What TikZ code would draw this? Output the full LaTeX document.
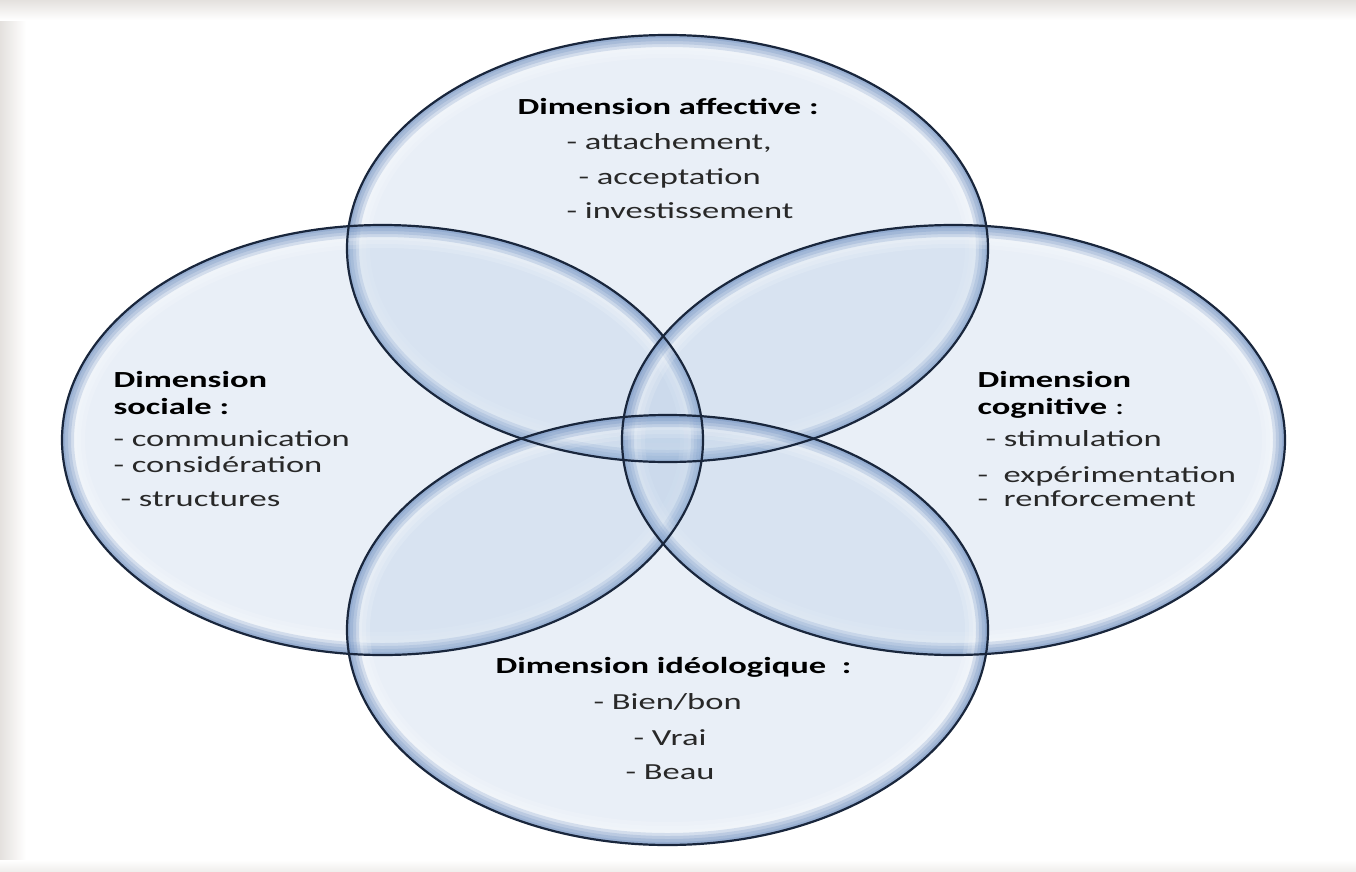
\documentclass[tikz,border=0pt]{standalone}
\usepackage{fontspec}
\setmainfont{Carlito}
\usetikzlibrary{positioning}

\definecolor{glass}{RGB}{170,195,225}
\definecolor{rim}{RGB}{80,120,180}
\definecolor{edge}{RGB}{25,38,60}
\definecolor{frame}{RGB}{228,225,222}
\definecolor{ink}{RGB}{40,40,40}

\newcommand{\pxw}{0.569pt}

\tikzset{
  head/.style={anchor=base west, inner sep=0pt, xscale=1.5, text=black,
    font=\fontsize{13.1}{15}\selectfont\bfseries},
  item/.style={anchor=base west, inner sep=0pt, xscale=1.5, text=ink,
    font=\fontsize{13.1}{15}\selectfont},
}

\begin{document}
\begin{tikzpicture}[x=0.02cm, y=-0.02cm]
  % page and soft frame
  \useasboundingbox (0,0) rectangle (1356,872);
  \fill[white] (0,0) rectangle (1356,872);
  \shade[left color=frame, right color=white] (0,0) rectangle (26,872);
  \shade[top color=frame, bottom color=white] (0,0) rectangle (1356,20);
  \shade[top color=white, bottom color=frame!60!white] (0,860) rectangle (1356,872);

  % the four glass bubbles: centre x, centre y, x radius, y radius
  \foreach \cx/\cy/\rx/\ry in {667.5/248.5/320.5/213.5, 382.5/440/320.5/215,
                               953.5/440/331.5/215, 667.5/630/320.5/215}
  {
    \begin{scope}
      \clip (\cx,\cy) ellipse [x radius=\rx, y radius=\ry];
      \fill[glass, opacity=.26] (\cx,\cy) ellipse [x radius=\rx, y radius=\ry];
      \foreach \w in {46,38,30}
        \draw[white, opacity=.15, line width=\w*\pxw] (\cx,\cy) ellipse [x radius=\rx, y radius=\ry];
      \foreach \w in {24,18,12,6}
        \draw[rim, opacity=.18, line width=\w*\pxw] (\cx,\cy) ellipse [x radius=\rx, y radius=\ry];
    \end{scope}
  }
  \foreach \cx/\cy/\rx/\ry in {667.5/248.5/320.5/213.5, 382.5/440/320.5/215,
                               953.5/440/331.5/215, 667.5/630/320.5/215}
    \draw[edge, line width=2.2*\pxw] (\cx,\cy) ellipse [x radius=\rx, y radius=\ry];

  % affective (top)
  \node[head] (aff) at (517,114) {Dimension affective :};
  \node[item] (aff1) at (566,149) {- attachement,};
  \node[item] (aff2) at (578,184) {- acceptation};
  \node[item] (aff3) at (566,218) {- investissement};

  % sociale (left)
  \node[head] (soc) at (113,387) {Dimension};
  \node[head] (soc0) at (113,414) {sociale :};
  \node[item] (soc1) at (113,446) {- communication};
  \node[item] (soc2) at (113,472) {- considération};
  \node[item] (soc3) at (120,506) {- structures};

  % cognitive (right)
  \node[head] (cog) at (977,387) {Dimension};
  \node[head] (cog0) at (977,414) {cognitive \mdseries:};
  \node[item] (cog1) at (985,446) {- stimulation};
  \node[item] (cog2) at (977,482) {-~ expérimentation};
  \node[item] (cog3) at (977,506) {-~ renforcement};

  % ideologique (bottom)
  \node[head] (ide) at (495,673) {Dimension idéologique~ :};
  \node[item] (ide1) at (593,709) {- Bien/bon};
  \node[item] (ide2) at (633,745) {- Vrai};
  \node[item] (ide3) at (625,779) {- Beau};
\end{tikzpicture}
\end{document}
